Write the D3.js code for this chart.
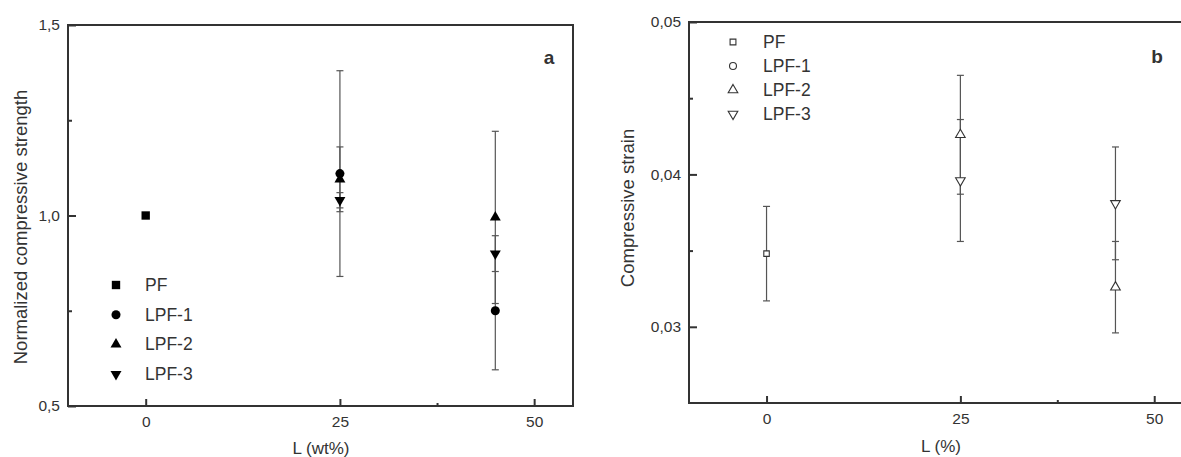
<!DOCTYPE html>
<html>
<head>
<meta charset="utf-8">
<script src="https://cdn.jsdelivr.net/npm/d3@7"></script>
<style>
  body { margin: 0; background: #fff; }
  svg text { font-family: "Liberation Sans", Arial, sans-serif; fill: #333; }
</style>
</head>
<body>
<script>
// lignin loading (wt%)
const loadings = [0, 25, 45]
const seriesNames = ['PF', 'LPF-1', 'LPF-2', 'LPF-3']

// panel a - normalized compressive strength
const strengthPF = [1.0, null, null]
const strengthPFErr = [0, null, null]
const strengthLPF1 = [null, 1.11, 0.75]
const strengthLPF1Err = [null, 0.27, 0.155]
const strengthLPF2 = [null, 1.095, 0.995]
const strengthLPF2Err = [null, 0.085, 0.226]
const strengthLPF3 = [null, 1.04, 0.90]
const strengthLPF3Err = [null, 0.02, 0.047]

// panel b - compressive strain (LPF-1 has no points)
const strainPF = [0.0348, null, null]
const strainPFErr = [0.0031, null, null]
const strainLPF1 = [null, null, null]
const strainLPF1Err = [null, null, null]
const strainLPF2 = [null, 0.0426, 0.0326]
const strainLPF2Err = [null, 0.0039, 0.0030]
const strainLPF3 = [null, 0.0396, 0.0381]
const strainLPF3Err = [null, 0.0040, 0.0037]

const xTicks = [0, 25, 50]
const xMinor = [37.5]
const strengthTicks = [0.5, 1.0, 1.5]
const strengthMinor = [0.75, 1.25]
const strainTicks = [0.03, 0.04, 0.05]
const strainMinor = [0.035, 0.045]

const W = 1181, H = 457
const comma = d3.formatLocale({decimal: ',', thousands: '.', grouping: [3], currency: ['', '']})

const symbols = [
    {type: d3.symbolSquare, rot: 0},
    {type: d3.symbolCircle, rot: 0},
    {type: d3.symbolTriangle, rot: 0},
    {type: d3.symbolTriangle, rot: 180}
]

const svg = d3.select('body').append('svg')
    .attr('width', W)
    .attr('height', H)

const drawPanel = function(o) {
    const g = svg.append('g')
    const x = d3.scaleLinear().domain([-10, 55]).range([o.left, o.right])
    const y = d3.scaleLinear().domain(o.yDomain).range([o.bottom, o.top])

    // ticks inside the box
    const bx = g.append('g').attr('transform', `translate(0,${o.bottom})`)
        .call(d3.axisBottom(x).tickValues(xTicks).tickSize(-7).tickPadding(10).tickFormat(d3.format('d')))
    const bm = g.append('g').attr('transform', `translate(0,${o.bottom})`)
        .call(d3.axisBottom(x).tickValues(xMinor).tickSize(-3).tickFormat(''))
    const ly = g.append('g').attr('transform', `translate(${o.left},0)`)
        .call(d3.axisLeft(y).tickValues(o.yTicks).tickSize(-8).tickPadding(8).tickFormat(comma.format(o.fmt)))
    const lm = g.append('g').attr('transform', `translate(${o.left},0)`)
        .call(d3.axisLeft(y).tickValues(o.yMinor).tickSize(-4).tickFormat(''))
    ;[bx, bm, ly, lm].forEach(a => {
        a.select('.domain').remove()
        a.selectAll('line').attr('stroke', '#333').attr('stroke-width', 2)
        a.selectAll('text').attr('font-size', 15.5).attr('fill', '#444')
            .style('font-family', '"Liberation Sans", Arial, sans-serif')
    })

    g.append('rect')
        .attr('x', o.left).attr('y', o.top)
        .attr('width', o.right - o.left).attr('height', o.bottom - o.top)
        .attr('fill', 'none').attr('stroke', '#333').attr('stroke-width', 2)

    // error bars
    o.series.forEach((s, si) => {
        const pts = loadings.map((l, i) => ({x: l, v: s.values[i], e: s.errs[i]}))
            .filter(p => p.v != null && p.e)
        const eb = g.append('g').attr('stroke', '#555').attr('stroke-width', 1.2)
        eb.selectAll('line.bar').data(pts).enter().append('line')
            .attr('x1', p => x(p.x)).attr('x2', p => x(p.x))
            .attr('y1', p => y(p.v - p.e)).attr('y2', p => y(p.v + p.e))
        eb.selectAll('line.cap').data(pts.flatMap(p => [
            {x: p.x, v: p.v - p.e}, {x: p.x, v: p.v + p.e}])).enter().append('line')
            .attr('x1', p => x(p.x) - 3.5).attr('x2', p => x(p.x) + 3.5)
            .attr('y1', p => y(p.v)).attr('y2', p => y(p.v))
    })

    // markers
    o.series.forEach((s, si) => {
        const pts = loadings.map((l, i) => ({x: l, v: s.values[i]})).filter(p => p.v != null)
        g.selectAll(null).data(pts).enter().append('path')
            .attr('d', d3.symbol().type(symbols[si].type).size(o.sizes[si]))
            .attr('transform', p => `translate(${x(p.x)},${y(p.v)}) rotate(${symbols[si].rot})`)
            .attr('fill', o.filled ? '#000' : '#fff')
            .attr('stroke', o.filled ? 'none' : '#333')
            .attr('stroke-width', 1.1)
    })

    // legend
    seriesNames.forEach((name, i) => {
        const ly0 = o.legend.y + i * o.legend.step
        g.append('path')
            .attr('d', d3.symbol().type(symbols[i].type).size(o.legendSizes[i]))
            .attr('transform', `translate(${o.legend.x},${ly0}) rotate(${symbols[i].rot})`)
            .attr('fill', o.filled ? '#000' : '#fff')
            .attr('stroke', o.filled ? 'none' : '#333')
            .attr('stroke-width', 1.1)
        g.append('text')
            .attr('x', o.legend.tx).attr('y', ly0 + 6)
            .attr('font-size', 17.5)
            .text(name)
    })

    g.append('text')
        .attr('x', o.tag.x).attr('y', o.tag.y)
        .attr('text-anchor', 'middle')
        .attr('font-size', 19).attr('font-weight', 'bold').attr('fill', '#111')
        .text(o.tag.text)

    g.append('text')
        .attr('x', o.xTitle.x).attr('y', o.xTitle.y)
        .attr('text-anchor', 'middle').attr('font-size', 17)
        .text(o.xTitle.text)

    g.append('text')
        .attr('transform', `translate(${o.yTitle.x},${o.yTitle.y}) rotate(-90)`)
        .attr('text-anchor', 'middle').attr('font-size', 18.5)
        .text(o.yTitle.text)
}

drawPanel({
    left: 68, right: 573, top: 25, bottom: 406,
    yDomain: [0.5, 1.5], yTicks: strengthTicks, yMinor: strengthMinor, fmt: '.1f',
    filled: true,
    sizes: [70, 64, 52, 52],
    legendSizes: [70, 64, 52, 52],
    series: [
        {values: strengthPF, errs: strengthPFErr},
        {values: strengthLPF1, errs: strengthLPF1Err},
        {values: strengthLPF2, errs: strengthLPF2Err},
        {values: strengthLPF3, errs: strengthLPF3Err}
    ],
    legend: {x: 116, tx: 145, y: 285, step: 29.7},
    tag: {text: 'a', x: 549, y: 64},
    xTitle: {text: 'L (wt%)', x: 321, y: 454},
    yTitle: {text: 'Normalized compressive strength', x: 27, y: 227}
})

drawPanel({
    left: 689, right: 1193, top: 22, bottom: 403,
    yDomain: [0.025, 0.05], yTicks: strainTicks, yMinor: strainMinor, fmt: '.2f',
    filled: false,
    sizes: [30, 36, 40, 40],
    legendSizes: [34, 38, 40, 40],
    series: [
        {values: strainPF, errs: strainPFErr},
        {values: strainLPF1, errs: strainLPF1Err},
        {values: strainLPF2, errs: strainLPF2Err},
        {values: strainLPF3, errs: strainLPF3Err}
    ],
    legend: {x: 733, tx: 763, y: 42, step: 24},
    tag: {text: 'b', x: 1157, y: 63},
    xTitle: {text: 'L (%)', x: 941, y: 452},
    yTitle: {text: 'Compressive strain', x: 634, y: 208}
})
</script>
</body>
</html>
